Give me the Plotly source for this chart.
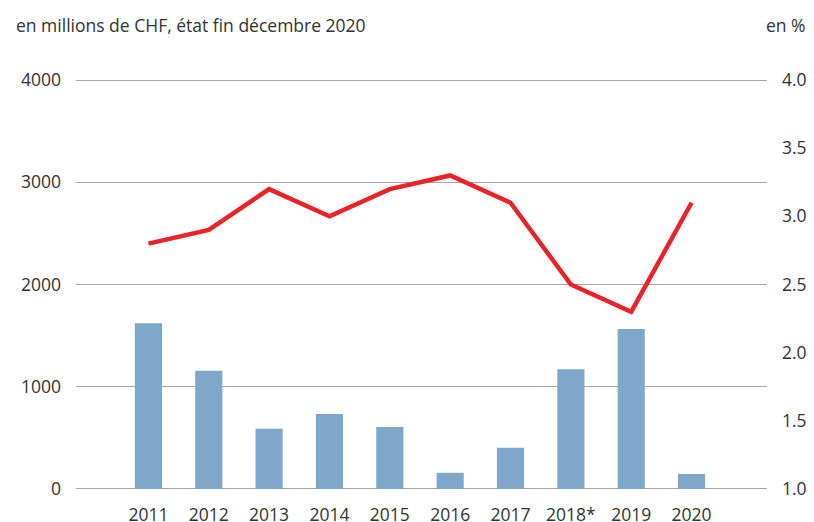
import plotly.graph_objects as go

years = ["2011", "2012", "2013", "2014", "2015", "2016", "2017", "2018*", "2019", "2020"]
amounts = [1620, 1155, 588, 733, 606, 158, 404, 1172, 1565, 147]  # millions CHF, left axis
rate = [2.8, 2.9, 3.2, 3.0, 3.2, 3.3, 3.1, 2.5, 2.3, 3.1]  # %, right axis

font = "Open Sans, Noto Sans, sans-serif"
grey = "#333333"
fs = 17.5

# padding so plotly still draws the 0 and 4000 gridlines (it skips those on the edge)
pad = 30
fig = go.Figure()
fig.add_trace(go.Bar(x=years, y=amounts, marker_color="#7FA7C9", width=0.45,
                     marker_line_width=0))
fig.add_trace(go.Scatter(x=years, y=rate, yaxis="y2", mode="lines",
                         line=dict(color="#E8242B", width=4.5)))

fig.update_layout(
    width=814, height=522,
    margin=dict(l=76, r=47, t=77, b=30),
    plot_bgcolor="white", paper_bgcolor="white",
    showlegend=False,
    font=dict(family=font, size=fs, color=grey),
    xaxis=dict(range=[-1.2, 10.25], showgrid=False, showline=False, automargin=False,
               ticks="", ticklabelstandoff=10, tickfont=dict(size=fs)),
    yaxis=dict(range=[-pad, 4000 + pad], tickvals=[0, 1000, 2000, 3000, 4000],
               showgrid=True, gridcolor="#A6A6A6", gridwidth=1, automargin=False,
               zeroline=False, showline=False, ticklabelstandoff=14,
               tickfont=dict(size=fs)),
    yaxis2=dict(range=[1 - pad * 3 / 4000, 4 + pad * 3 / 4000], overlaying="y", side="right",
                tickvals=[1.0, 1.5, 2.0, 2.5, 3.0, 3.5, 4.0], tickformat=".1f",
                showgrid=False, zeroline=False, showline=False, automargin=False,
                ticklabelstandoff=14, tickfont=dict(size=fs)),
    annotations=[
        dict(text="en millions de CHF, état fin décembre 2020", xref="paper", yref="paper",
             x=(14 - 76) / 691, y=(492 - 25) / 415, xanchor="left", yanchor="middle",
             showarrow=False, font=dict(size=fs, color=grey)),
        dict(text="en %", xref="paper", yref="paper",
             x=(808 - 76) / 691, y=(492 - 25) / 415, xanchor="right", yanchor="middle",
             showarrow=False, font=dict(size=fs, color=grey)),
    ],
)

fig.write_html("out.html", config={"displayModeBar": False},
               post_script="document.body.style.margin='0';")
